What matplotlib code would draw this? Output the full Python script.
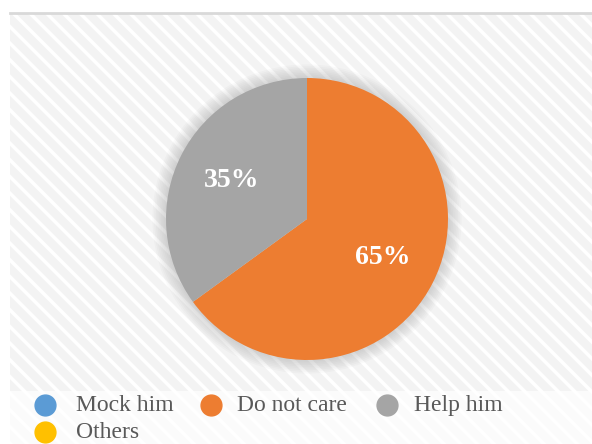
import matplotlib.pyplot as plt
import numpy as np
from matplotlib.patches import Rectangle, Circle
from matplotlib.lines import Line2D

labels = ['Mock him', 'Do not care', 'Help him', 'Others']
values = [0, 65, 35, 0]
colors = ['#5B9BD5', '#ED7D31', '#A5A5A5', '#FFC000']

W, H = 592, 444
plt.rcParams['hatch.linewidth'] = 2.5
fig = plt.figure(figsize=(W / 100, H / 100), dpi=100)
fig.patch.set_facecolor('white')

def fx(px):
    return px / W

def fy(py):
    return 1 - py / H

# hatched chart background
bg = Rectangle((fx(10), 0), 1 - fx(10), fy(14), transform=fig.transFigure,
               facecolor='#f3f3f3', edgecolor='white', hatch='\\\\', lw=0, zorder=0)
fig.add_artist(bg)
fig.add_artist(Rectangle((fx(10), 0), 1 - fx(10), fy(391), transform=fig.transFigure,
                         facecolor='white', alpha=0.7, lw=0, zorder=0.5))
fig.add_artist(Line2D([fx(10), 1], [fy(13), fy(13)], transform=fig.transFigure,
                      color='#d9d9d9', lw=2, zorder=1))

# pie axes
cx, cy, r = 307, 219, 141
ax = fig.add_axes([fx(cx - r), fy(cy + r), 2 * r / W, 2 * r / H])
ax.set_xlim(-1, 1)
ax.set_ylim(-1, 1)
ax.set_aspect('equal')
ax.axis('off')
ax.patch.set_alpha(0)

# soft shadow around the pie
for k in range(8):
    ax.add_patch(Circle((0, 0), 1.0 + 0.012 * (k + 1), color='#808080',
                        alpha=0.04, lw=0, zorder=0, clip_on=False))

def pct(p):
    return '%d%%' % round(p) if p > 0 else ''

wedges, texts, autotexts = ax.pie(values, colors=colors, startangle=90, counterclock=False,
                                  radius=1, autopct=pct, pctdistance=0.6,
                                  wedgeprops=dict(linewidth=0),
                                  textprops=dict(color='white', fontsize=20, fontweight='bold',
                                                 family='Liberation Serif'))
for w in wedges:
    w.set_zorder(2)
for t in autotexts:
    t.set_zorder(3)
ax.set_xlim(-1, 1)
ax.set_ylim(-1, 1)

# legend
marker_x = [45, 211, 387, 45]
text_x = [76, 237, 414, 76]
row_y = [405, 405, 405, 432]
for i in range(len(labels)):
    fig.add_artist(Line2D([fx(marker_x[i])], [fy(row_y[i])], transform=fig.transFigure,
                          marker='o', markersize=15, color=colors[i], lw=0, zorder=4))
    fig.text(fx(text_x[i]), fy(row_y[i]), labels[i], family='Liberation Serif',
             fontsize=17, color='#595959', va='center', ha='left', zorder=4)

fig.savefig('out.png', dpi=100)
